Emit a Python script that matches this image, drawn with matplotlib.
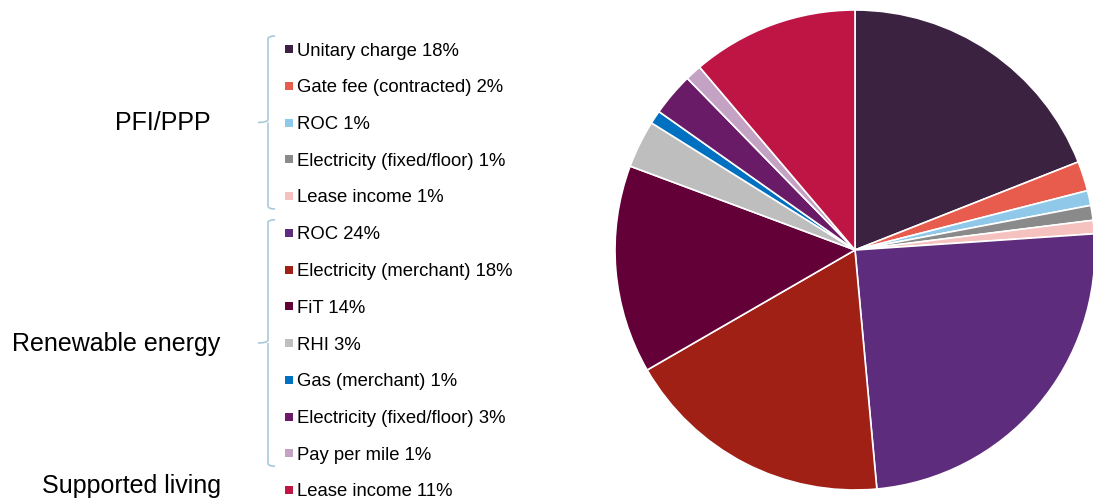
import matplotlib
matplotlib.use("Agg")
import matplotlib.pyplot as plt
from matplotlib.patches import Rectangle
from matplotlib.path import Path
from matplotlib.patches import PathPatch

plt.rcParams['font.family'] = ['Liberation Sans', 'DejaVu Sans']

# slice data (share of revenue)
names = ["Unitary charge", "Gate fee (contracted)", "ROC", "Electricity (fixed/floor)",
         "Lease income", "ROC", "Electricity (merchant)", "FiT", "RHI",
         "Gas (merchant)", "Electricity (fixed/floor)", "Pay per mile", "Lease income"]
pct_labels = [18, 2, 1, 1, 1, 24, 18, 14, 3, 1, 3, 1, 11]
shares = [19.0, 2.0, 1.0, 1.0, 0.9, 24.6, 18.1, 14.0, 3.2, 0.9, 2.9, 1.1, 11.2]
colors = ["#3B2241", "#E85C4E", "#8FC8E8", "#8A8A8A", "#F5C2C0", "#5E2C7C",
          "#A02016", "#630038", "#BEBEBE", "#0070C0", "#6A1B68", "#C4A2C4", "#BE1545"]
groups = ["PFI/PPP", "Renewable energy", "Supported living"]
group_sizes = [5, 7, 1]

W, H = 1093, 500
fig = plt.figure(figsize=(W / 100, H / 100), dpi=100)


def fx(px):
    return px / W


def fy(py):
    return 1 - py / H


# pie, centre (855, 250), radius 240 px
ax = fig.add_axes([fx(615), fy(490), 480 / W, 480 / H])
ax.pie(shares, colors=colors, startangle=90, counterclock=False,
       wedgeprops=dict(edgecolor="white", linewidth=1.2))
ax.set_xlim(-1, 1)
ax.set_ylim(-1, 1)
ax.axis("off")

# legend rows
row0, step = 49, 36.75
for i, (n, p, c) in enumerate(zip(names, pct_labels, colors)):
    y = row0 + i * step
    fig.patches.append(Rectangle((fx(285), fy(y + 4)), 8 / W, 8 / H,
                                 transform=fig.transFigure, facecolor=c,
                                 edgecolor="none"))
    fig.text(fx(297), fy(y + 2), "%s %d%%" % (n, p), fontsize=13.3,
             va="center", ha="left", color="black")

# group labels and brackets
group_x = [163, 116, 131]
start = 0
brk = "#A9C9DA"
for g, size, gx in zip(groups, group_sizes, group_x):
    first = row0 + start * step
    last = row0 + (start + size - 1) * step
    mid = (first + last) / 2
    if g == "Supported living":
        mid = last - 5
    fig.text(fx(gx), fy(mid + 1), g, fontsize=18, ha="center", va="center")
    if size > 1:
        top, bot = first - 13, last + 13
        verts = [(275, top), (268, top), (268, top + 3),
                 (268, mid - 3), (268, mid), (258, mid),
                 (268, mid), (268, mid + 3),
                 (268, bot - 3), (268, bot), (275, bot)]
        codes = [Path.MOVETO, Path.CURVE3, Path.CURVE3,
                 Path.LINETO, Path.CURVE3, Path.CURVE3,
                 Path.MOVETO, Path.CURVE3,
                 Path.LINETO, Path.CURVE3, Path.CURVE3]
        verts = [(fx(a), fy(b)) for a, b in verts]
        fig.patches.append(PathPatch(Path(verts, codes), transform=fig.transFigure,
                                     facecolor="none", edgecolor=brk, linewidth=1.2))
    start += size

fig.savefig("out.png", dpi=100)
